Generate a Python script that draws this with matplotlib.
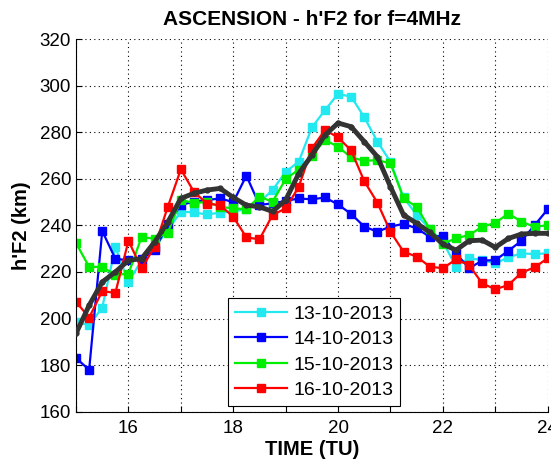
import numpy as np
import matplotlib
matplotlib.use("Agg")
import matplotlib.pyplot as plt
from matplotlib.ticker import MultipleLocator

plt.rcParams['font.family'] = ['Liberation Sans', 'DejaVu Sans']

# hours (TU), every 15 min
hours = np.arange(15, 24.01, 0.25)

# h'F2 values (km)
h_13 = [198.6, 197.1, 204.7, 230.7, 215.6, 225.0, 230.7, 238.0, 245.9, 245.6, 244.7, 245.5,
        246.0, 247.0, 250.0, 255.2, 263.0, 267.4, 282.1, 289.5, 296.5, 295.3, 286.5, 276.0,
        267.3, 252.0, 244.5, 238.5, 233.0, 222.3, 225.9, 225.1, 223.7, 226.3, 228.0, 227.7, 228.0]
h_14 = [183.0, 178.0, 237.6, 225.7, 225.0, 225.7, 229.3, 240.5, 248.8, 250.2, 250.9, 251.6,
        250.0, 261.4, 248.8, 249.5, 250.5, 251.6, 251.2, 252.0, 249.0, 244.9, 239.5, 237.3,
        239.5, 240.7, 238.7, 235.1, 235.6, 228.0, 221.6, 224.9, 225.1, 229.1, 233.4, 240.1, 246.9]
h_15 = [232.4, 222.2, 222.2, 218.8, 219.2, 235.0, 234.3, 236.8, 251.0, 249.6, 250.1, 248.0,
        247.3, 247.0, 252.3, 250.2, 259.9, 264.0, 270.0, 276.7, 273.8, 269.2, 267.8, 268.0,
        266.7, 251.6, 248.0, 238.5, 232.2, 234.4, 235.9, 239.4, 241.1, 245.1, 241.6, 239.4, 240.1]
h_16 = [207.2, 200.4, 211.8, 211.0, 233.4, 221.6, 230.8, 247.9, 264.1, 254.4, 249.4, 248.7,
        243.7, 234.9, 234.0, 244.5, 247.3, 256.6, 273.1, 281.0, 277.8, 272.2, 259.0, 249.8,
        237.3, 228.7, 226.6, 222.3, 221.6, 225.4, 223.0, 215.1, 212.6, 214.4, 219.7, 222.0, 225.9]
h_avg = [193.6, 205.7, 215.7, 220.0, 225.0, 225.7, 232.9, 241.4, 251.6, 253.8, 255.2, 255.9,
         252.0, 248.7, 248.0, 246.0, 250.9, 262.3, 270.2, 278.8, 284.0, 282.4, 276.0, 269.5,
         256.6, 244.5, 240.9, 237.0, 232.0, 229.4, 233.4, 233.7, 230.6, 234.4, 236.3, 236.6, 236.6]

labels = ["13-10-2013", "14-10-2013", "15-10-2013", "16-10-2013"]
colors = ["#22e8f0", "#0000ff", "#00ee00", "#ff0000"]

fig = plt.figure(figsize=(5.51, 4.61), dpi=100)
ax = fig.add_axes([0.138, 0.107, 0.856, 0.808])

for y, lab, c in zip([h_13, h_14, h_15, h_16], labels, colors):
    ax.plot(hours, y, "-s", color=c, lw=1.6, ms=6, mec=c, label=lab)

ax.plot(hours, h_avg, "-o", color="#333333", lw=3.5, ms=3.5, zorder=5)

ax.set_xlim(15, 24)
ax.set_ylim(160, 320)
ax.xaxis.set_minor_locator(MultipleLocator(1))
ax.yaxis.set_major_locator(MultipleLocator(20))
ax.set_xticks([16, 18, 20, 22, 24])
ax.tick_params(axis="both", which="both", direction="in", length=4.5, width=0.8, labelsize=13.5)
ax.tick_params(axis="x", pad=6)
ax.grid(True, which="both", color="black", linestyle=(0, (1, 3)), linewidth=0.8)
for s in ["top", "right"]:
    ax.spines[s].set_visible(False)

ax.set_title("ASCENSION - h'F2 for f=4MHz", fontsize=15, fontweight="bold", pad=10)
ax.set_xlabel("TIME (TU)", fontsize=14.5, fontweight="bold", labelpad=2)
ax.set_ylabel("h'F2 (km)", fontsize=14.5, fontweight="bold", labelpad=6)

leg = ax.legend(loc="lower left", bbox_to_anchor=(0.322, 0.016), borderaxespad=0, fontsize=14,
                frameon=True, fancybox=False, edgecolor="black", framealpha=1, handlelength=2.7,
                borderpad=0.35, labelspacing=0.4, handletextpad=0.3)
leg.get_frame().set_linewidth(0.8)
leg.set_zorder(10)

fig.savefig("out.png", dpi=100)
